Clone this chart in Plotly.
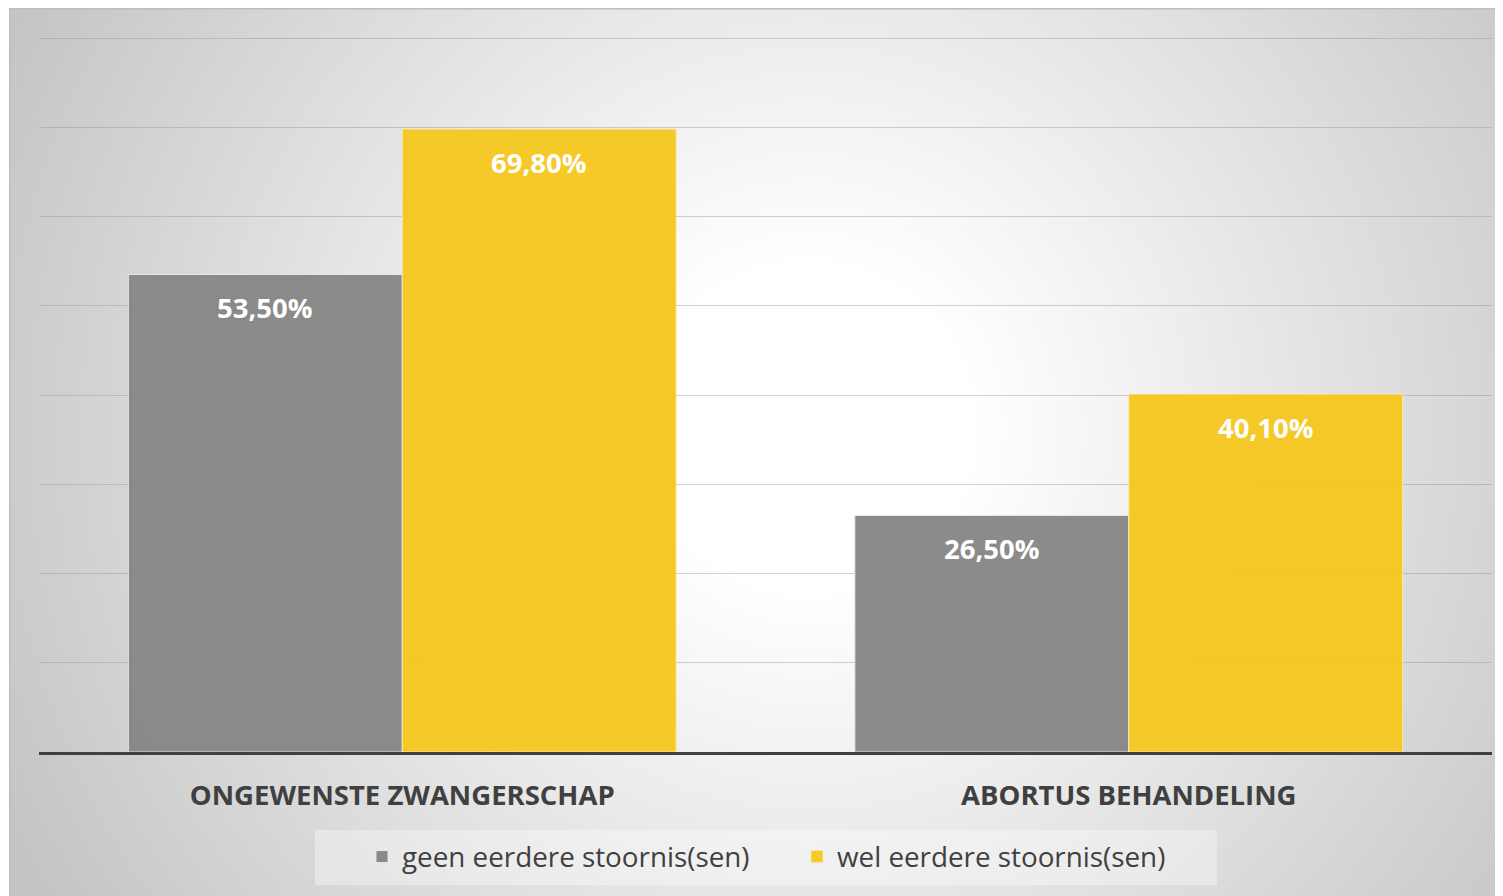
import plotly.graph_objects as go
from urllib.parse import quote

categories = ["ONGEWENSTE ZWANGERSCHAP", "ABORTUS BEHANDELING"]
series_names = ["geen eerdere stoornis(sen)", "wel eerdere stoornis(sen)"]
geen_values = [53.5, 26.5]
wel_values = [69.8, 40.1]

W, H = 1503, 896
OFF = 8  # page body margin
# value 80 sits at page y 38, value 0 at page y 752
UNIT = (752 - 38) / 80
EXTRA_PX = 5
YMAX = 80 + EXTRA_PX / UNIT
PL, PT = 39 - OFF, 38 - OFF - EXTRA_PX
PR, PB = W - (1492 - OFF), H - (752 - OFF)
pw, ph = W - PL - PR, H - PT - PB

def px_x(page_x):
    return (page_x - OFF - PL) / pw

def px_y(page_y):
    return (PT + ph - (page_y - OFF)) / ph

BARGAP = 0.246
bar_w = (1 - BARGAP) / 2

GREY = "rgba(134,134,134,0.96)"
YELLOW = "rgba(245,199,30,0.96)"

fig = go.Figure()
fig.add_trace(go.Bar(
    x=categories, y=geen_values, name=series_names[0],
    marker=dict(color=GREY, line=dict(color="rgba(235,235,235,0.9)", width=1)),
    hoverinfo="skip"))
fig.add_trace(go.Bar(
    x=categories, y=wel_values, name=series_names[1],
    marker=dict(color=YELLOW, line=dict(color="rgba(250,235,180,0.9)", width=1)),
    hoverinfo="skip"))

def fmt(v):
    return f"{v:.2f}%".replace(".", ",")

annotations = []
for i in range(len(categories)):
    for j, vals in enumerate([geen_values, wel_values]):
        off = (-bar_w / 2) if j == 0 else (bar_w / 2)
        annotations.append(dict(
            x=i + off, y=vals[i], xref="x", yref="y",
            text=fmt(vals[i]), showarrow=False, yanchor="middle",
            yshift=-33,
            font=dict(family="Open Sans", size=27.5, color="white", weight="bold")))

# radial gradient background (decoration), from page (9,8) onwards
bw, bh = W + 10, H + 10
svg = (
    f"<svg xmlns='http://www.w3.org/2000/svg' width='{bw}' height='{bh}' "
    f"viewBox='0 0 {bw} {bh}' preserveAspectRatio='none'>"
    "<defs><radialGradient id='g' gradientUnits='userSpaceOnUse' "
    "cx='800' cy='420' r='900'>"
    "<stop offset='0' stop-color='#ffffff'/>"
    "<stop offset='0.18' stop-color='#ffffff'/>"
    "<stop offset='1' stop-color='#c4c4c4'/>"
    "</radialGradient></defs>"
    f"<rect x='0' y='0' width='{bw}' height='{bh}' fill='url(#g)'/>"
    f"<path d='M0.5,{bh} V0.5 H{bw}' stroke='#bdbdbd' stroke-width='2' fill='none'/>"
    "</svg>")
src = "data:image/svg+xml;charset=utf-8," + quote(svg)

fig.update_layout(
    width=W, height=H,
    margin=dict(l=PL, r=PR, t=PT, b=PB, pad=0),
    paper_bgcolor="white",
    plot_bgcolor="rgba(0,0,0,0)",
    barmode="group", bargap=BARGAP, bargroupgap=0,
    images=[dict(source=src, xref="paper", yref="paper",
                 x=px_x(9), y=px_y(8), sizex=bw / pw, sizey=bh / ph,
                 xanchor="left", yanchor="top", sizing="stretch",
                 layer="below")],
    shapes=[dict(type="rect", xref="paper", yref="paper",
                 x0=px_x(315), x1=px_x(1217), y0=px_y(885), y1=px_y(830),
                 fillcolor="rgba(255,255,255,0.35)", line=dict(width=0),
                 layer="below")],
    annotations=annotations,
    showlegend=True,
    legend=dict(orientation="h", x=px_x(362), y=px_y(857),
                xanchor="left", yanchor="middle",
                bgcolor="rgba(0,0,0,0)", entrywidth=390, entrywidthmode="pixels",
                font=dict(family="Open Sans", size=27.8, color="#404040")),
    xaxis=dict(showgrid=False, ticks="", showline=True, linecolor="#404040",
               linewidth=3, ticklabelstandoff=17,
               tickfont=dict(family="Open Sans", size=27.5, color="#404040",
                             weight="bold")),
    yaxis=dict(range=[0, YMAX], dtick=10, tick0=0, showticklabels=False,
               showgrid=True, gridcolor="rgba(150,150,150,0.45)", gridwidth=1,
               zeroline=False, ticks=""),
)

fig.write_html("out.html")
